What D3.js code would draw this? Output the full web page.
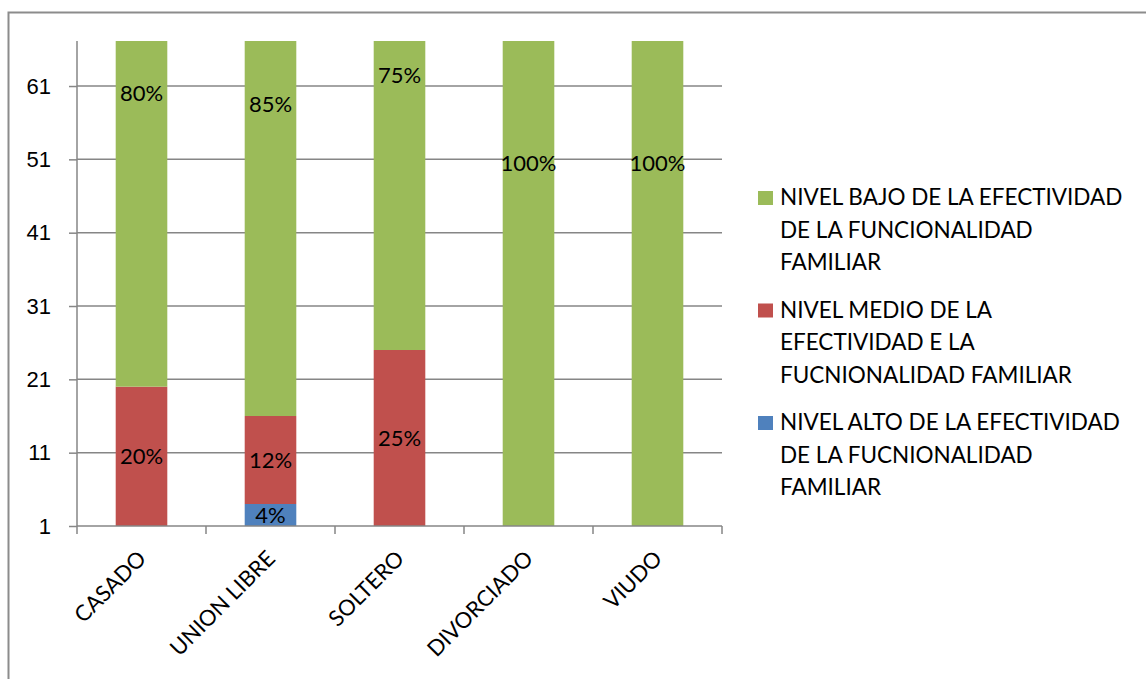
<!DOCTYPE html>
<html>
<head>
<meta charset="utf-8">
<script src="https://cdn.jsdelivr.net/npm/d3@7"></script>
<style>
    body { margin: 0; background: #fff; }
    svg { font-family: Lato, "Open Sans", sans-serif; }
    .axis text { font-size: 22px; fill: #000; }
    .axis path, .axis line { stroke: #868686; }
</style>
</head>
<body>
<script>
// Categories and series (percentages per marital status)
var categories = ["CASADO", "UNION LIBRE", "SOLTERO", "DIVORCIADO", "VIUDO"];
var nivelAlto = [0, 4, 0, 0, 0];
var nivelMedio = [20, 12, 25, 0, 0];
var nivelBajo = [80, 85, 75, 100, 100];
var yTicks = [1, 11, 21, 31, 41, 51, 61];
var yMin = 1, yMax = 67.14;

var seriesNames = [
    ["NIVEL ALTO DE LA EFECTIVIDAD", "DE LA FUCNIONALIDAD", "FAMILIAR"],
    ["NIVEL MEDIO DE LA", "EFECTIVIDAD E LA", "FUCNIONALIDAD FAMILIAR"],
    ["NIVEL BAJO DE LA EFECTIVIDAD", "DE LA FUNCIONALIDAD", "FAMILIAR"]
];
var seriesColors = ["#4F81BD", "#C0504D", "#9BBB59"];

window.onload = function() {

    var svgWidth = 1146, svgHeight = 679;
    var plot = { left: 77, right: 722, top: 41, bottom: 526 };

    var svg = d3.select("body").append("svg")
        .attr("width", svgWidth)
        .attr("height", svgHeight);

    // Outer chart frame (runs off the right and bottom edge)
    svg.append("rect")
        .attr("x", 8.5).attr("y", 12.5)
        .attr("width", 1200).attr("height", 700)
        .attr("fill", "none")
        .attr("stroke", "#8c8c8c")
        .attr("stroke-width", 2);

    var xScale = d3.scaleBand()
        .domain(categories)
        .range([plot.left, plot.right])
        .paddingInner(0.6)
        .paddingOuter(0.3);

    var yScale = d3.scaleLinear()
        .domain([yMin, yMax])
        .range([plot.bottom, plot.top]);

    // Gridlines
    svg.append("g")
        .attr("class", "grid")
        .selectAll("line")
        .data(yTicks.slice(1))
        .enter().append("line")
        .attr("x1", plot.left).attr("x2", plot.right)
        .attr("y1", function(d) { return yScale(d); })
        .attr("y2", function(d) { return yScale(d); })
        .attr("stroke", "#868686")
        .attr("stroke-width", 1.5);

    // Stack the data
    var table = categories.map(function(c, i) {
        return { cat: c, alto: nivelAlto[i], medio: nivelMedio[i], bajo: nivelBajo[i] };
    });
    var stacked = d3.stack().keys(["alto", "medio", "bajo"])(table);

    svg.append("clipPath").attr("id", "plotClip")
        .append("rect")
        .attr("x", plot.left).attr("y", plot.top)
        .attr("width", plot.right - plot.left)
        .attr("height", plot.bottom - plot.top);

    var layers = svg.append("g")
        .attr("clip-path", "url(#plotClip)")
        .selectAll(".layer")
        .data(stacked)
        .enter().append("g")
        .attr("class", "layer")
        .attr("fill", function(d, i) { return seriesColors[i]; });

    layers.selectAll("rect")
        .data(function(d) { return d.filter(function(p) { return p[1] > p[0]; }); })
        .enter().append("rect")
        .attr("x", function(d) { return xScale(d.data.cat); })
        .attr("width", xScale.bandwidth())
        .attr("y", function(d) { return yScale(d[1]); })
        .attr("height", function(d) { return yScale(Math.max(d[0], yMin)) - yScale(d[1]); });

    // Axes
    var yAxis = svg.append("g")
        .attr("class", "axis")
        .attr("transform", `translate(${plot.left}, 0)`)
        .call(d3.axisLeft(yScale).tickValues(yTicks).tickSize(8).tickPadding(18).tickSizeOuter(0));
    yAxis.select(".domain").attr("d", `M0,${plot.top}V${plot.bottom}`).attr("stroke-width", 1.5);
    yAxis.selectAll("line").attr("stroke-width", 1.5);

    var step = xScale.step();
    var xAxis = svg.append("g")
        .attr("class", "axis")
        .attr("transform", `translate(0, ${plot.bottom})`);
    xAxis.append("path")
        .attr("d", `M${plot.left},0H${plot.right}`)
        .attr("stroke", "#868686").attr("stroke-width", 1.5);
    xAxis.selectAll(".xtick")
        .data(d3.range(categories.length + 1))
        .enter().append("line")
        .attr("x1", function(i) { return plot.left + i * step; })
        .attr("x2", function(i) { return plot.left + i * step; })
        .attr("y1", 0).attr("y2", 8)
        .attr("stroke", "#868686").attr("stroke-width", 1.5);
    xAxis.selectAll(".xlabel")
        .data(categories)
        .enter().append("text")
        .attr("transform", function(d) {
            var cx = xScale(d) + xScale.bandwidth() / 2 + 6;
            return `translate(${cx}, 34) rotate(-45)`;
        })
        .attr("text-anchor", "end")
        .attr("font-size", "22px")
        .text(function(d) { return d; });

    // Data labels
    var labelData = [];
    stacked.forEach(function(layer) {
        layer.forEach(function(p) {
            if (p[1] > p[0]) labelData.push(p);
        });
    });
    svg.append("g").selectAll("text")
        .data(labelData)
        .enter().append("text")
        .attr("x", function(d) { return xScale(d.data.cat) + xScale.bandwidth() / 2; })
        .attr("y", function(d) {
            var c = yScale((Math.max(d[0], yMin) + d[1]) / 2);
            return Math.max(c, plot.top + 25);
        })
        .attr("dy", "0.35em")
        .attr("text-anchor", "middle")
        .attr("font-size", "22px")
        .text(function(d) { return (d[1] - d[0]) + "%"; });

    // Legend (top to bottom: bajo, medio, alto)
    var legendOrder = [2, 1, 0];
    var legend = svg.append("g").selectAll(".legend")
        .data(legendOrder)
        .enter().append("g")
        .attr("class", "legend")
        .attr("transform", function(d, i) { return `translate(758, ${205 + i * 112.5})`; });

    legend.append("rect")
        .attr("x", 0).attr("y", -14)
        .attr("width", 15).attr("height", 14)
        .attr("fill", function(d) { return seriesColors[d]; });

    legend.append("text")
        .attr("x", 22)
        .attr("font-size", "22.5px")
        .selectAll("tspan")
        .data(function(d) { return seriesNames[d]; })
        .enter().append("tspan")
        .attr("x", 22)
        .attr("dy", function(d, i) { return i === 0 ? 0 : 32.5; })
        .text(function(d) { return d; });
};
</script>
</body>
</html>
